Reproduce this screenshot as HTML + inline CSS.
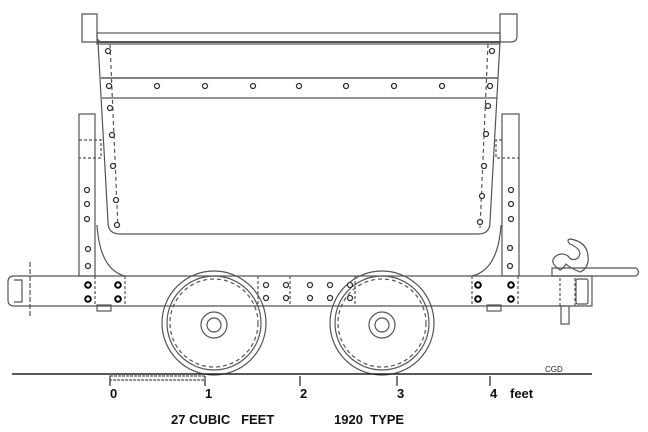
<!DOCTYPE html>
<html><head><style>html,body{margin:0;padding:0;background:#fff}svg{display:block}</style></head><body>
<svg width="648" height="432" viewBox="0 0 648 432" xmlns="http://www.w3.org/2000/svg" font-family="Liberation Sans, sans-serif">
<g fill="none" stroke="#555" stroke-width="1.2">
<path d="M82 14 H97 V36 Q97 42 103 42 H82 Z"/>
<path d="M500 14 H517 V36 Q517 42 511 42 H500 Z"/>
<rect x="97" y="33" width="403" height="11"/>
<line x1="97" y1="42" x2="500" y2="42" stroke-width="2"/>
<path d="M98 42 L108 222 Q108 234 120 234 H478 Q490 234 490 222 L500 42"/>
<path d="M110 44 L118 228 M488 44 L480 228" stroke-dasharray="4 3"/>
<line x1="101" y1="78" x2="498" y2="78" stroke-width="1.6"/>
<line x1="102" y1="98" x2="497" y2="98"/>
<rect x="79" y="114" width="16" height="162"/>
<rect x="502" y="114" width="17" height="162"/>
<path d="M79 140 H101 V158 H79 M502 140 H496 V158 H519" stroke-dasharray="3 2"/>
<path d="M97 225 Q100 270 125 276"/>
<path d="M501 225 Q498 270 472 276"/>
<path d="M14 276 H592 V306 H14 Q8 306 8 300 V282 Q8 276 14 276 Z"/>
<path d="M14 280 H22 V302 H14"/>
<line x1="30" y1="262" x2="30" y2="318" stroke-dasharray="5 2"/>
<path d="M95 276 V306 M125 276 V306 M472 276 V306 M518 276 V306 M258 276 V306 M290 276 V306 M355 276 V306" stroke-dasharray="3 2"/>
<rect x="97" y="305" width="14" height="6"/>
<rect x="487" y="305" width="14" height="6"/>
<path d="M560 278 V306 M575 278 V306" stroke-dasharray="3 2"/>
<rect x="576" y="279" width="12" height="25" rx="2"/>
<rect x="561" y="306" width="8" height="18"/>
<path d="M560 270 Q548 262 556 256 Q562 252 568 256 Q572 262 578 258 Q584 250 570 244 Q566 240 570 239 Q590 242 588 262 Q586 270 580 272 Q570 268 566 264 Q562 270 560 270 Z"/>
<path d="M552 268 H636 Q641 272 636 276 H552 Z"/>
<circle cx="214" cy="323" r="52"/><circle cx="214" cy="323" r="47"/>
<circle cx="214" cy="323" r="44" stroke-dasharray="4 3"/>
<circle cx="214" cy="325" r="13"/><circle cx="214" cy="325" r="7"/>
<circle cx="382" cy="323" r="52"/><circle cx="382" cy="323" r="47"/>
<circle cx="382" cy="323" r="44" stroke-dasharray="4 3"/>
<circle cx="382" cy="325" r="13"/><circle cx="382" cy="325" r="7"/>
<line x1="12" y1="374" x2="592" y2="374" stroke="#222" stroke-width="1.6"/>
<path d="M110 376 V386 M205 376 V386 M300 376 V386 M397 376 V386 M490 376 V386" stroke="#222"/>
<rect x="110" y="376" width="95" height="4" stroke-dasharray="3 1"/>
</g>
<g fill="#fff" stroke="#333" stroke-width="1.3">
<circle cx="108" cy="51" r="2.5"/><circle cx="109" cy="86" r="2.5"/><circle cx="110" cy="108" r="2.5"/><circle cx="112" cy="135" r="2.5"/><circle cx="113" cy="166" r="2.5"/><circle cx="116" cy="200" r="2.5"/><circle cx="117" cy="225" r="2.5"/>
<circle cx="492" cy="51" r="2.5"/><circle cx="490" cy="86" r="2.5"/><circle cx="488" cy="106" r="2.5"/><circle cx="486" cy="134" r="2.5"/><circle cx="484" cy="166" r="2.5"/><circle cx="482" cy="196" r="2.5"/><circle cx="480" cy="222" r="2.5"/>
<circle cx="157" cy="86" r="2.5"/><circle cx="205" cy="86" r="2.5"/><circle cx="253" cy="86" r="2.5"/><circle cx="299" cy="86" r="2.5"/><circle cx="346" cy="86" r="2.5"/><circle cx="394" cy="86" r="2.5"/><circle cx="442" cy="86" r="2.5"/>
<circle cx="87" cy="190" r="2.5"/><circle cx="87" cy="204" r="2.5"/><circle cx="87" cy="219" r="2.5"/><circle cx="88" cy="249" r="2.5"/><circle cx="88" cy="266" r="2.5"/>
<circle cx="511" cy="190" r="2.5"/><circle cx="511" cy="204" r="2.5"/><circle cx="511" cy="219" r="2.5"/><circle cx="510" cy="248" r="2.5"/><circle cx="510" cy="266" r="2.5"/>
<circle cx="266" cy="285" r="2.5"/><circle cx="266" cy="298" r="2.5"/><circle cx="286" cy="285" r="2.5"/><circle cx="286" cy="298" r="2.5"/><circle cx="310" cy="285" r="2.5"/><circle cx="310" cy="298" r="2.5"/><circle cx="330" cy="285" r="2.5"/><circle cx="330" cy="298" r="2.5"/><circle cx="350" cy="285" r="2.5"/><circle cx="350" cy="298" r="2.5"/>
</g>
<g fill="#fff" stroke="#000" stroke-width="2">
<circle cx="88" cy="285" r="2.8"/><circle cx="88" cy="299" r="2.8"/><circle cx="118" cy="285" r="2.8"/><circle cx="118" cy="299" r="2.8"/>
<circle cx="478" cy="285" r="2.8"/><circle cx="478" cy="299" r="2.8"/><circle cx="511" cy="285" r="2.8"/><circle cx="511" cy="299" r="2.8"/>
</g>
<g font-weight="bold" font-size="13" fill="#111">
<text x="110" y="398">0</text><text x="205" y="398">1</text><text x="300" y="398">2</text><text x="397" y="398">3</text><text x="490" y="398">4</text><text x="510" y="398">feet</text>
<text x="171" y="424">27 CUBIC&#160;&#160; FEET</text><text x="334" y="424">1920&#160; TYPE</text>
</g>
<text x="545" y="372" font-size="8" fill="#222">CGD</text>
</svg>
</body></html>
